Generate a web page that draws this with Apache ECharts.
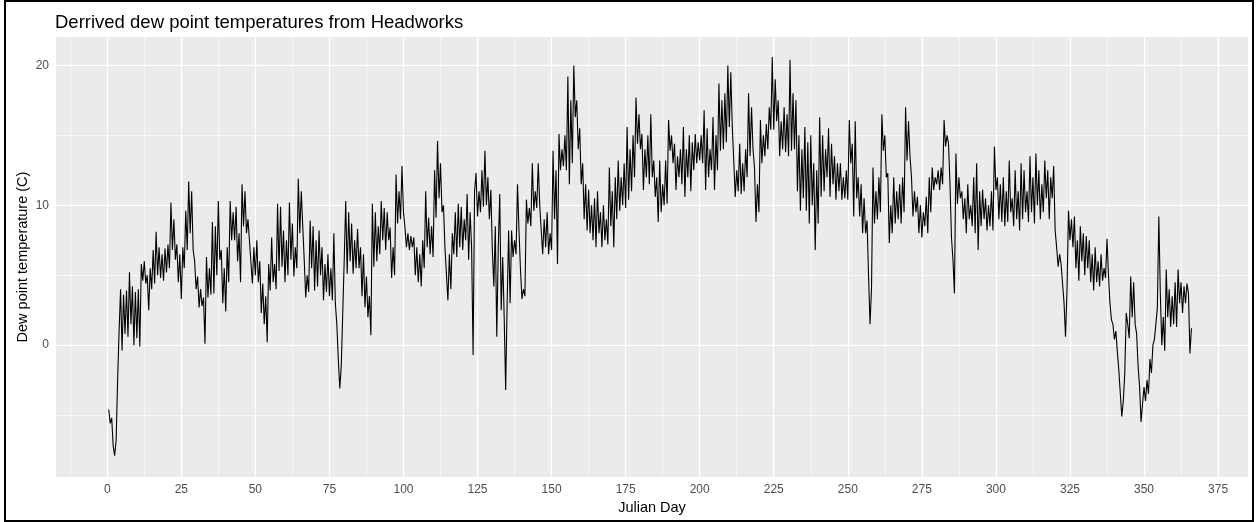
<!DOCTYPE html>
<html>
<head>
<meta charset="utf-8">
<script src="https://cdn.jsdelivr.net/npm/echarts@6/dist/echarts.min.js"></script>
<style>
html,body{margin:0;padding:0;background:#fff;}
#chart{position:absolute;left:0;top:0;width:1257px;height:522px;}
#frame{position:absolute;left:4px;top:0;width:1250px;height:522px;box-sizing:border-box;border:2px solid #000;pointer-events:none;}
</style>
</head>
<body>
<div id="chart"></div>
<div id="frame"></div>
<script>
// Sampling of the series: two readings per Julian day
const startDay = 0.5;
const stepDay = 0.5;
// Dew point readings (C), two per day, days 1..366
const dew = [
-4.6,-5.6, -5.2,-7.2, -7.9,-6.8, -2.5,1.0, 4.0,-0.4, 3.6,0.8, 3.9,0.6, 5.2,1.5, 4.2,0.0, 3.8,0.5,
4.0,-0.1, 5.8,4.6, 6.0,4.4, 5.0,2.5, 5.5,4.0, 6.8,4.4, 8.1,5.0, 7.0,4.8, 6.5,4.6, 6.9,5.2,
7.2,5.5, 10.2,6.8, 9.0,6.1, 7.2,4.5, 6.5,3.3, 7.0,5.5, 9.6,6.8, 11.7,8.0, 11.0,6.8, 6.0,4.0,
4.9,2.7, 4.0,2.8, 3.4,0.1, 6.3,3.4, 5.5,3.6, 8.8,3.7, 8.5,5.0, 10.3,6.1, 6.8,3.0, 5.5,2.4,
7.0,4.5, 10.3,7.5, 9.5,7.5, 9.9,6.0, 8.0,4.5, 11.5,8.5, 11.0,8.0, 9.0,7.5, 7.5,4.4, 7.0,5.0,
7.5,4.5, 6.0,2.3, 4.4,1.5, 3.5,0.2, 5.8,3.9, 7.7,4.5, 5.8,4.0, 10.1,5.3, 9.9,5.6, 8.2,4.5,
7.5,5.0, 10.2,6.1, 8.7,4.9, 7.0,5.5, 11.9,8.0, 11.0,8.5, 6.1,3.4, 5.0,3.8, 8.9,5.5, 8.5,3.9,
7.5,4.2, 8.2,5.0, 7.0,3.2, 5.8,3.8, 6.5,3.5, 5.5,3.2, 8.0,3.0, 1.5,-1.0, -3.1,-1.5, 2.3,6.1,
10.3,5.1, 9.5,6.0, 8.7,5.1, 7.5,5.5, 8.3,5.5, 7.0,3.5, 6.5,2.7, 4.9,2.0, 3.5,0.7, 10.1,5.6,
9.5,6.0, 8.5,6.5, 10.3,7.5, 9.8,6.8, 9.5,7.5, 8.4,4.8, 7.0,5.0, 12.2,8.7, 11.0,9.0, 12.8,9.5,
8.4,7.0, 8.0,6.8, 7.8,7.0, 7.7,5.0, 7.0,4.5, 6.5,4.2, 7.5,5.5, 11.0,7.0, 9.1,6.5, 8.5,6.3,
12.5,9.1, 14.6,10.5, 13.0,9.5, 10.0,7.0, 7.0,3.2, 6.5,4.0, 8.0,6.5, 9.5,6.3, 10.1,7.0, 9.9,6.8,
9.0,7.5, 10.8,6.1, 9.5,7.0, -0.7,11.0, 12.3,9.2, 11.0,9.5, 12.5,9.9, 13.9,10.0, 12.0,9.0, 11.1,6.8,
4.2,8.5, 0.6,7.0, 10.8,2.5, 6.3,2.0, -3.2,3.0, 8.2,3.0, 8.2,6.3, 7.5,6.5, 11.5,8.2, 5.4,3.3,
4.0,3.5, 10.4,8.7, 9.8,8.5, 13.0,9.6, 11.0,9.8, 13.0,10.0, 10.1,6.5, 9.0,7.0, 9.5,6.5, 8.0,6.8,
13.9,9.0, 12.5,5.8, 15.1,12.5, 14.0,12.8, 15.0,12.5, 19.2,11.5, 17.5,13.0, 20.0,16.3, 17.5,14.0, 15.5,11.5,
13.0,9.0, 11.5,8.2, 11.1,8.0, 10.0,7.5, 10.5,7.0, 11.0,8.0, 9.5,7.0, 10.0,7.5, 9.0,7.2, 12.7,8.5,
11.0,7.0, 12.0,9.0, 13.2,9.6, 12.0,10.0, 13.0,9.8, 15.6,10.4, 14.0,11.0, 15.0,12.0, 17.7,14.4, 16.5,14.0,
15.1,11.1, 14.0,12.0, 15.0,11.5, 16.5,12.0, 13.2,10.6, 12.0,8.8, 13.2,9.5, 11.5,10.0, 13.2,10.1, 16.1,13.9,
15.0,13.0, 14.4,11.1, 13.5,12.0, 14.0,11.5, 15.6,10.6, 14.0,12.0, 15.0,11.0, 14.5,12.5, 15.1,13.0, 14.5,13.2,
15.0,13.0, 16.8,11.1, 15.5,12.0, 14.0,12.5, 16.3,11.1, 15.0,12.5, 18.7,13.9, 17.5,14.0, 18.0,14.5, 20.0,15.6,
19.5,15.6, 13.2,10.6, 12.5,11.0, 14.4,10.8, 13.0,11.0, 14.0,12.0, 18.0,13.5, 17.0,14.0, 12.7,8.8, 11.5,9.5,
16.1,13.0, 15.0,13.5, 15.8,14.0, 17.0,15.4, 20.6,15.4, 19.0,16.0, 17.5,13.5, 16.0,14.0, 17.0,13.8, 16.5,13.5,
20.4,13.9, 18.0,14.0, 17.5,11.0, 15.0,9.6, 14.0,10.5, 15.6,9.6, 14.5,8.7, 15.0,10.0, 13.0,6.8, 12.5,8.7,
16.3,10.6, 15.0,11.0, 14.0,12.0, 15.5,10.6, 14.4,11.5, 13.5,10.4, 13.0,11.0, 13.0,10.4, 12.0,10.5, 12.5,10.4,
16.1,13.0, 14.4,9.2, 16.0,10.5, 12.0,9.2, 11.5,8.0, 10.5,8.0, 8.9,5.0, 1.5,4.0, 12.7,8.7, 11.0,9.0,
12.0,9.5, 16.5,13.9, 15.0,12.0, 12.3,7.3, 10.0,8.0, 12.0,8.7, 11.0,9.0, 11.5,8.7, 12.0,9.5, 17.0,13.2,
16.0,13.5, 12.0,9.2, 11.0,9.5, 10.6,8.0, 10.0,7.7, 9.5,8.5, 10.6,8.0, 12.0,9.5, 12.7,11.1, 12.0,11.5,
12.5,11.1, 12.7,11.5, 16.1,14.2, 15.0,14.4, 11.5,7.7, 6.1,3.7, 13.7,10.1, 12.0,10.5, 11.0,9.0, 10.5,8.0,
11.5,9.0, 10.0,8.5, 12.0,8.0, 13.0,6.8, 11.0,8.5, 11.1,9.0, 10.5,8.2, 10.0,8.5, 11.0,8.2, 14.2,11.1,
12.0,9.0, 11.5,8.8, 12.0,8.5, 11.0,8.8, 13.2,9.5, 10.5,8.5, 12.5,9.0, 11.0,8.2, 13.0,9.0, 12.5,9.5,
11.0,8.8, 13.5,9.5, 12.0,8.7, 13.7,10.0, 12.5,9.0, 11.5,9.5, 13.2,10.5, 12.5,9.0, 12.0,10.5, 12.8,8.2,
7.0,5.6, 6.5,5.8, 4.4,3.0, 0.6,4.0, 9.6,7.5, 9.0,7.0, 9.2,5.5, 7.5,4.6, 8.5,6.0, 8.0,5.0,
7.8,5.5, 7.5,4.5, 6.5,3.9, 7.0,4.5, 6.0,4.2, 6.5,4.6, 5.5,4.8, 7.6,5.0, 3.0,1.8, 1.5,0.4,
1.0,-0.5, -1.8,-3.5, -5.1,-4.0, -2.0,2.3, 1.5,0.5, 4.9,2.0, 4.5,1.5, 0.8,-1.5, -3.0,-5.5, -4.2,-3.0,
-4.0,-2.5, -3.5,-1.0, -2.0,0.0, 0.4,1.5, 2.7,9.2, 3.7,0.0, 2.0,-0.4, 5.4,2.0, 4.0,1.3, 3.5,1.5,
4.5,1.3, 5.4,3.0, 4.5,2.3, 4.2,3.0, 4.4,3.7, -0.6,1.2
];
// Axis ticks
const xTicks = [0, 25, 50, 75, 100, 125, 150, 175, 200, 225, 250, 275, 300, 325, 350, 375];
const xMinorGrid = [-12.5, 12.5, 37.5, 62.5, 87.5, 112.5, 137.5, 162.5, 187.5, 212.5, 237.5, 262.5, 287.5, 312.5, 337.5, 362.5];
const yTicks = [0, 10, 20];
const yMinorGrid = [-5, 5, 15];

const seriesData = dew.map((v, i) => [startDay + stepDay * i, v]);

const majorStyle = {color: '#FFFFFF', width: 1.2, type: 'solid'};
const minorStyle = {color: '#FFFFFF', width: 0.6, type: 'solid'};
const gridLines = []
  .concat(xMinorGrid.map(v => ({xAxis: v, lineStyle: minorStyle})))
  .concat(yMinorGrid.map(v => ({yAxis: v, lineStyle: minorStyle})))
  .concat(xTicks.map(v => ({xAxis: v, lineStyle: majorStyle})))
  .concat(yTicks.map(v => ({yAxis: v, lineStyle: majorStyle})));

const chart = echarts.init(document.getElementById('chart'), null, {renderer: 'canvas'});
const font = 'Liberation Sans, Arial, sans-serif';
chart.setOption({
  animation: false,
  backgroundColor: '#FFFFFF',
  title: {
    text: 'Derrived dew point temperatures from Headworks',
    left: 55, top: 13, padding: 0,
    textStyle: {fontFamily: font, fontSize: 18.5, fontWeight: 'normal', color: '#000000'}
  },
  grid: {
    left: 56, right: 9, top: 37, bottom: 45,
    show: true, backgroundColor: '#EBEBEB', borderWidth: 0
  },
  xAxis: {
    type: 'value', min: -17.3, max: 385.1,
    name: 'Julian Day', nameLocation: 'middle', nameGap: 23, nameMoveOverlap: false,
    nameTextStyle: {fontFamily: font, fontSize: 14.5, color: '#000000'},
    axisLine: {show: false},
    axisTick: {show: true, length: 4, customValues: xTicks, lineStyle: {color: '#333333', width: 1}},
    axisLabel: {customValues: xTicks, margin: 7, fontFamily: font, fontSize: 12, color: '#4D4D4D'},
    splitLine: {show: false}
  },
  yAxis: {
    type: 'value', min: -9.43, max: 22.03,
    name: 'Dew point temperature (C)', nameLocation: 'middle', nameGap: 26, nameRotate: 90, nameMoveOverlap: false,
    nameTextStyle: {fontFamily: font, fontSize: 14.5, color: '#000000'},
    axisLine: {show: false},
    axisTick: {show: true, length: 4, customValues: yTicks, lineStyle: {color: '#333333', width: 1}},
    axisLabel: {customValues: yTicks, margin: 7, fontFamily: font, fontSize: 12, color: '#4D4D4D'},
    splitLine: {show: false}
  },
  series: [
    {
      type: 'line', z: 1, silent: true,
      data: [[0, 0]], showSymbol: false, symbol: 'none',
      lineStyle: {opacity: 0},
      markLine: {silent: true, z: 1, symbol: ['none', 'none'], label: {show: false}, animation: false, emphasis: {disabled: true}, data: gridLines}
    },
    {
      type: 'line', z: 3, data: seriesData,
      showSymbol: false, symbol: 'none',
      lineStyle: {color: '#000000', width: 1.1},
      silent: true
    }
  ]
});
</script>
</body>
</html>
